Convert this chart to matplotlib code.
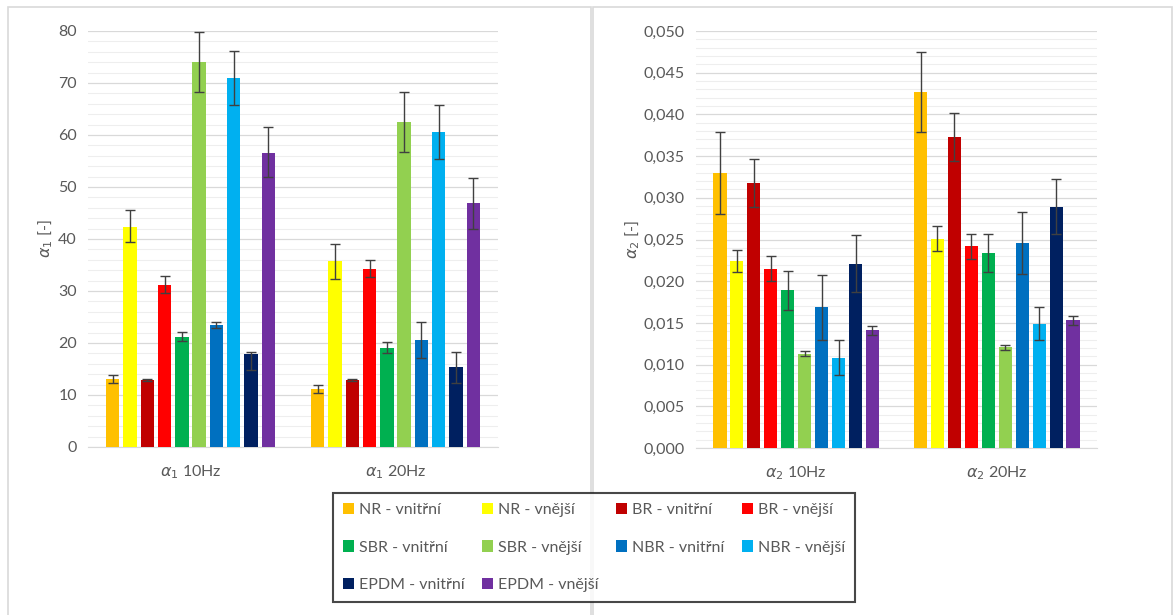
import numpy as np
import matplotlib.pyplot as plt
from matplotlib.patches import Rectangle
from matplotlib.ticker import MultipleLocator, FuncFormatter

plt.rcParams['font.family'] = ['Lato', 'DejaVu Sans']

series = ['NR - vnitřní', 'NR - vnější', 'BR - vnitřní', 'BR - vnější',
          'SBR - vnitřní', 'SBR - vnější', 'NBR - vnitřní', 'NBR - vnější',
          'EPDM - vnitřní', 'EPDM - vnější']
colors = ['#FFC000', '#FFFF00', '#C00000', '#FF0000', '#00B050',
          '#92D050', '#0070C0', '#00B0F0', '#002060', '#7030A0']

a1_groups = [r'$\alpha_1$ 10Hz', r'$\alpha_1$ 20Hz']
a1_10 = [13.1, 42.3, 12.8, 31.2, 21.2, 74.0, 23.4, 70.9, 17.9, 56.6]
a1_20 = [11.1, 35.7, 12.9, 34.3, 19.1, 62.5, 20.6, 60.6, 15.3, 46.9]
a1_10_lo = [0.8, 2.9, 0.2, 1.6, 0.9, 5.8, 0.6, 5.2, 3.0, 4.7]
a1_10_hi = [0.8, 3.2, 0.2, 1.7, 0.9, 5.8, 0.6, 5.2, 0.4, 4.9]
a1_20_lo = [0.8, 3.3, 0.2, 1.7, 1.1, 5.8, 3.4, 5.2, 3.0, 4.9]
a1_20_hi = [0.8, 3.3, 0.2, 1.7, 1.1, 5.8, 3.4, 5.2, 3.0, 4.9]

a2_groups = [r'$\alpha_2$ 10Hz', r'$\alpha_2$ 20Hz']
a2_10 = [0.0330, 0.0224, 0.0318, 0.0215, 0.0189, 0.0113, 0.0169, 0.0108, 0.0221, 0.0141]
a2_20 = [0.0427, 0.0251, 0.0373, 0.0242, 0.0234, 0.0121, 0.0246, 0.0149, 0.0289, 0.0153]
a2_10_err = [0.0049, 0.0013, 0.0029, 0.0015, 0.0023, 0.0003, 0.0039, 0.0021, 0.0034, 0.0005]
a2_20_err = [0.0048, 0.0015, 0.0029, 0.0015, 0.0023, 0.0003, 0.0037, 0.0020, 0.0033, 0.0005]

TXT = '#595959'
pitch = 0.0845
width = 0.065


def draw_panel(ax, groups, g1, g2, lo1, hi1, lo2, hi2, ymax, major, minor, fmt, ylabel, lpad):
    centers = np.arange(len(groups))
    handles = []
    for j in range(len(series)):
        x = centers + (j - 4.5) * pitch
        vals = [g1[j], g2[j]]
        err = [[lo1[j], lo2[j]], [hi1[j], hi2[j]]]
        b = ax.bar(x, vals, width, color=colors[j], label=series[j], zorder=3,
                   yerr=err, capsize=3.5,
                   error_kw=dict(ecolor='#404040', elinewidth=1, capthick=1, zorder=4))
        handles.append(b)
    ax.set_xlim(-0.5, 1.5)
    ax.set_ylim(0, ymax)
    ax.yaxis.set_major_locator(MultipleLocator(major))
    ax.yaxis.set_minor_locator(MultipleLocator(minor))
    ax.yaxis.set_major_formatter(FuncFormatter(fmt))
    ax.grid(which='major', axis='y', color='#d9d9d9', lw=0.9, zorder=0)
    ax.grid(which='minor', axis='y', color='#eeeeee', lw=0.8, zorder=0)
    ax.set_xticks(centers)
    ax.set_xticklabels(groups)
    for s in ['top', 'right', 'left']:
        ax.spines[s].set_visible(False)
    ax.spines['bottom'].set_color('#d9d9d9')
    ax.tick_params(axis='both', which='both', length=0, colors=TXT, labelsize=11.5)
    ax.tick_params(axis='x', pad=12)
    ax.tick_params(axis='y', pad=8)
    ax.set_ylabel(ylabel, color=TXT, fontsize=11.5, labelpad=lpad)
    return handles


fig = plt.figure(figsize=(11.74, 6.15), dpi=100)

# panel frames
for x0, x1 in [(8, 591), (593, 1172)]:
    fig.patches.append(Rectangle((x0 / 1174, -0.05), (x1 - x0) / 1174, 1 - 7 / 615 + 0.05,
                                 transform=fig.transFigure, fill=False,
                                 edgecolor='#d9d9d9', lw=1.2))

ax1 = fig.add_axes([88 / 1174, 1 - 447 / 615, 410 / 1174, 416 / 615])
ax2 = fig.add_axes([696 / 1174, 1 - 448 / 615, 401 / 1174, 417 / 615])

h = draw_panel(ax1, a1_groups, a1_10, a1_20, a1_10_lo, a1_10_hi, a1_20_lo, a1_20_hi,
               80, 10, 2, lambda v, p: f'{v:.0f}', r'$\alpha_1$ [-]', 2)
draw_panel(ax2, a2_groups, a2_10, a2_20, a2_10_err, a2_10_err, a2_20_err, a2_20_err,
           0.05, 0.005, 0.001, lambda v, p: f'{v:.3f}'.replace('.', ','), r'$\alpha_2$ [-]', 1)

# legend, row-major order across 4 columns
order = [0, 4, 8, 1, 5, 9, 2, 6, 3, 7]
leg = fig.legend([h[i] for i in order], [series[i] for i in order], ncol=4,
                 loc='center', bbox_to_anchor=(333 / 1174, 1 - 605 / 615, 522 / 1174, 115 / 615),
                 mode='expand', fontsize=11.5, handlelength=0.7, handleheight=0.7,
                 handletextpad=0.3, columnspacing=0.8, labelspacing=1.45,
                 frameon=True, fancybox=False, borderpad=0.6, borderaxespad=0,
                 labelcolor=TXT)
leg.get_frame().set_edgecolor('#1a1a1a')
leg.get_frame().set_linewidth(1.5)
for p in leg.legend_handles:
    p.set_height(8)
    p.set_width(8)

fig.savefig('out.png', dpi=100)
